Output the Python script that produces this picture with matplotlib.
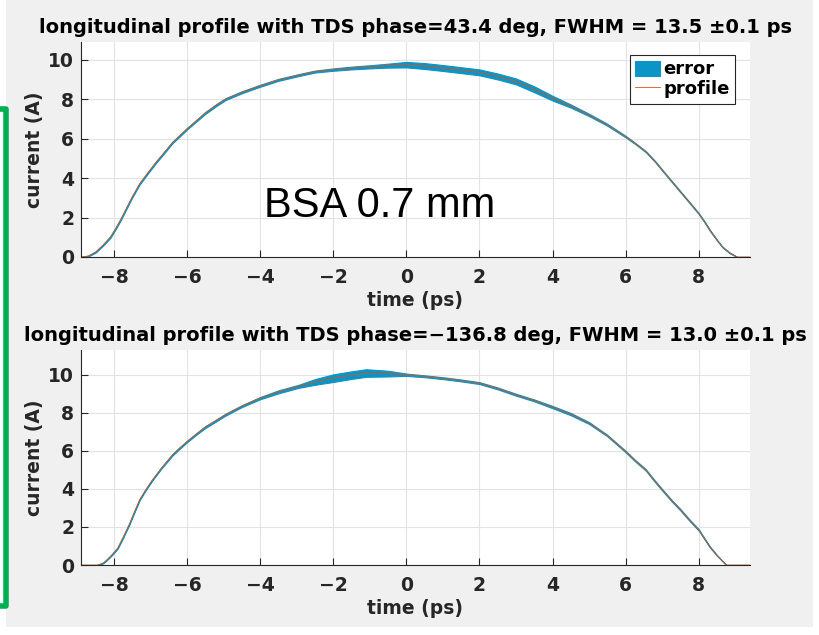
import matplotlib
matplotlib.use("Agg")
import matplotlib.pyplot as plt
from matplotlib.lines import Line2D
from matplotlib.patches import Rectangle
import numpy as np

# top panel: phase 43.4 deg (time in ps, current in A, error half-width in A)
t_top = [-8.9, -8.7, -8.5, -8.3, -8.1, -7.95, -7.8, -7.65, -7.5, -7.3, -7.1, -6.85,
         -6.6, -6.4, -6.2, -6.0, -5.75, -5.5, -5.2, -4.95, -4.5, -4.0, -3.5, -2.9,
         -2.5, -2.0, -1.5, -1.0, -0.5, 0.0, 0.5, 1.0, 1.5, 2.0, 2.5, 3.0, 3.5, 4.0,
         4.5, 5.0, 5.5, 6.0, 6.3, 6.55, 6.8, 7.0, 7.25, 7.5, 7.75, 8.0, 8.15, 8.3,
         8.5, 8.65, 8.85, 9.05, 9.4]
i_top = [0.0, 0.05, 0.25, 0.6, 1.0, 1.45, 1.95, 2.5, 3.05, 3.7, 4.2, 4.8,
         5.35, 5.8, 6.15, 6.5, 6.9, 7.3, 7.7, 8.0, 8.35, 8.68, 8.98, 9.24,
         9.4, 9.5, 9.58, 9.64, 9.7, 9.75, 9.68, 9.58, 9.47, 9.36, 9.15, 8.9, 8.5, 8.05,
         7.65, 7.2, 6.7, 6.1, 5.7, 5.34, 4.85, 4.4, 3.85, 3.3, 2.75, 2.2, 1.8, 1.36,
         0.85, 0.5, 0.2, 0.0, 0.0]
e_top = [0.0, 0.02, 0.03, 0.03, 0.04, 0.04, 0.04, 0.04, 0.04, 0.04, 0.04, 0.04,
         0.04, 0.04, 0.04, 0.04, 0.04, 0.05, 0.05, 0.05, 0.05, 0.05, 0.05, 0.05,
         0.05, 0.06, 0.07, 0.08, 0.1, 0.14, 0.15, 0.15, 0.15, 0.15, 0.15, 0.15, 0.15, 0.12,
         0.08, 0.06, 0.05, 0.04, 0.03, 0.03, 0.03, 0.03, 0.03, 0.03, 0.03, 0.03, 0.03, 0.03,
         0.02, 0.02, 0.02, 0.0, 0.0]

# bottom panel: phase -136.8 deg
t_bot = [-8.9, -8.45, -8.3, -8.2, -8.05, -7.9, -7.75, -7.57, -7.45, -7.3, -7.15, -6.95,
         -6.7, -6.4, -6.2, -6.0, -5.75, -5.5, -5.2, -4.95, -4.5, -4.0, -3.5, -2.95,
         -2.5, -2.0, -1.5, -1.1, -0.5, 0.0, 0.5, 1.0, 1.5, 2.0, 2.5, 3.0, 3.5, 4.0,
         4.5, 5.0, 5.5, 6.0, 6.25, 6.55, 6.8, 7.0, 7.25, 7.5, 7.75, 8.0, 8.15, 8.3,
         8.5, 8.75, 9.4]
i_bot = [0.0, 0.0, 0.1, 0.26, 0.55, 0.88, 1.45, 2.19, 2.75, 3.42, 3.9, 4.47,
         5.1, 5.79, 6.15, 6.49, 6.88, 7.25, 7.6, 7.9, 8.35, 8.77, 9.1, 9.39,
         9.62, 9.82, 9.98, 10.09, 10.06, 10.0, 9.92, 9.82, 9.7, 9.56, 9.28, 8.95, 8.65, 8.3,
         7.93, 7.46, 6.8, 5.96, 5.5, 5.0, 4.4, 3.95, 3.4, 2.9, 2.35, 1.84, 1.4, 0.96,
         0.5, 0.0, 0.0]
e_bot = [0.0, 0.0, 0.02, 0.02, 0.03, 0.03, 0.03, 0.03, 0.03, 0.03, 0.03, 0.03,
         0.03, 0.04, 0.04, 0.04, 0.04, 0.05, 0.05, 0.05, 0.05, 0.06, 0.08, 0.08,
         0.15, 0.2, 0.2, 0.2, 0.15, 0.06, 0.05, 0.05, 0.05, 0.05, 0.05, 0.05, 0.05, 0.06,
         0.06, 0.05, 0.04, 0.04, 0.04, 0.04, 0.04, 0.04, 0.04, 0.04, 0.04, 0.04, 0.03, 0.03,
         0.02, 0.0, 0.0]

titles = [
    "longitudinal profile with TDS phase=43.4 deg, FWHM = 13.5 \u00b10.1 ps",
    "longitudinal profile with TDS phase=\u2212136.8 deg, FWHM = 13.0 \u00b10.1 ps",
]
x_ticks = [-8, -6, -4, -2, 0, 2, 4, 6, 8]
y_ticks = [0, 2, 4, 6, 8, 10]
y_max = [10.9, 11.3]

ERR_COLOR = "#0b95c6"
PROF_COLOR = "#d95319"
TXT = "#262626"

plt.rcParams["font.family"] = "DejaVu Sans"

fig = plt.figure(figsize=(8.2, 6.35), dpi=100, facecolor="white")
# grey matlab window background
fig.patches.append(Rectangle((6 / 820, 8 / 635), 807 / 820, 627 / 635,
                             transform=fig.transFigure, facecolor="#f0f0f0",
                             edgecolor="none", zorder=-10))

positions = [[0.0988, 0.5953, 0.8158, 0.3386], [0.0988, 0.1102, 0.8158, 0.3386]]
data = [(t_top, i_top, e_top), (t_bot, i_bot, e_bot)]

for k, pos in enumerate(positions):
    ax = fig.add_axes(pos)
    t, cur, err = (np.array(v, dtype=float) for v in data[k])
    ax.fill_between(t, cur - err, cur + err, color=ERR_COLOR, linewidth=0.8,
                    edgecolor=ERR_COLOR, label="error")
    ax.plot(t, cur, color=PROF_COLOR, linewidth=0.6, label="profile")

    ax.set_xlim(-8.9, 9.4)
    ax.set_ylim(0, y_max[k])
    ax.set_xticks(x_ticks)
    ax.set_xticklabels([str(v).replace("-", "\u2212") for v in x_ticks])
    ax.set_yticks(y_ticks)
    ax.grid(True, color="#e3e3e3", linewidth=0.8)
    ax.set_axisbelow(True)
    for side in ("top", "right"):
        ax.spines[side].set_visible(False)
    for side in ("left", "bottom"):
        ax.spines[side].set_color(TXT)
        ax.spines[side].set_linewidth(0.8)
    ax.tick_params(direction="in", length=5, width=0.8, colors=TXT,
                   labelsize=13.5, top=False, right=False)
    ax.tick_params(axis="x", pad=8)
    ax.tick_params(axis="y", pad=5)
    for lab in ax.get_xticklabels() + ax.get_yticklabels():
        lab.set_fontweight("bold")
    ax.set_title(titles[k], fontsize=14, fontweight="bold", color="black", pad=6.5)
    ax.set_xlabel("time (ps)", fontsize=13.5, fontweight="bold", color=TXT, labelpad=3)
    ax.set_ylabel("current (A)", fontsize=13.5, fontweight="bold", color=TXT, labelpad=3)

    if k == 0:
        leg = ax.legend(loc="upper right", bbox_to_anchor=(0.9776, 0.9395),
                        prop={"weight": "bold", "size": 13}, fancybox=False,
                        framealpha=1, edgecolor=TXT, handlelength=1.35,
                        handleheight=0.9, handletextpad=0.2, borderpad=0.3,
                        labelspacing=0.1, borderaxespad=0)
        leg.get_frame().set_linewidth(0.8)
        ax.text(0.447, 0.186, "BSA 0.7 mm", transform=ax.transAxes, ha="center",
                va="baseline", fontsize=30, family="Liberation Sans", color="black")

# green bracket on the left
fig.add_artist(Line2D([0, 6 / 820, 6 / 820, 0],
                      [1 - 109 / 635, 1 - 109 / 635, 1 - 606 / 635, 1 - 606 / 635],
                      transform=fig.transFigure, color="#00b050", linewidth=4))

fig.savefig("out.png", dpi=100, facecolor=fig.get_facecolor())
